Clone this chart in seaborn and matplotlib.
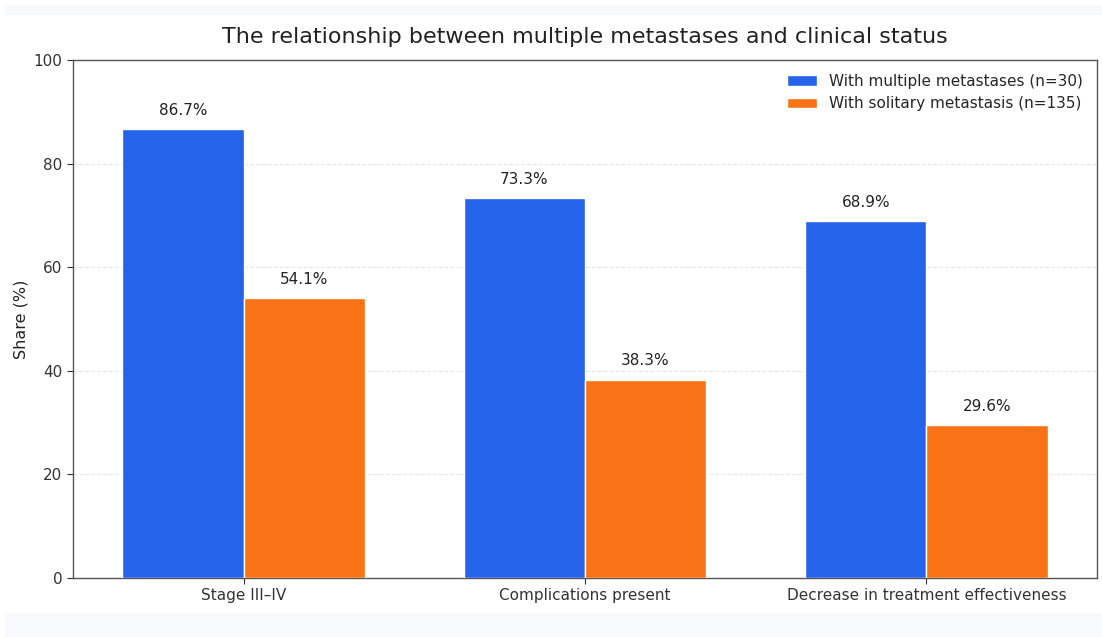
import matplotlib
matplotlib.use("Agg")
import matplotlib.pyplot as plt
import seaborn as sns
import pandas as pd
from matplotlib.patches import Rectangle

categories = ["Stage III\u2013IV", "Complications present", "Decrease in treatment effectiveness"]
groups = ["With multiple metastases (n=30)", "With solitary metastasis (n=135)"]
multiple_vals = [86.7, 73.3, 68.9]
solitary_vals = [54.1, 38.3, 29.6]
colors = ["#2563eb", "#f97316"]

df = pd.DataFrame({
    "category": categories * 2,
    "group": [groups[0]] * 3 + [groups[1]] * 3,
    "value": multiple_vals + solitary_vals,
})

sns.set_style("white")
plt.rcParams["font.family"] = ["DejaVu Sans"]

fig = plt.figure(figsize=(11.02, 6.37), dpi=100, facecolor="white")
# page background bands around the chart card
W, H = 1102, 637
fig.patches.append(Rectangle((5 / W, 0), 1 - 5 / W, 1 - 5 / H, transform=fig.transFigure,
                             facecolor="#f7f9fd", edgecolor="none", zorder=-10))
fig.patches.append(Rectangle((0, 24 / H), 1, (613 - 15) / H, transform=fig.transFigure,
                             facecolor="white", edgecolor="none", zorder=-9))

ax = fig.add_axes([73 / W, 1 - 578 / H, (1097 - 73) / W, (578 - 60) / H])
sns.barplot(data=df, x="category", y="value", hue="group", palette=colors,
            saturation=1, width=0.71, edgecolor="white", linewidth=1, ax=ax, zorder=3)

for cont in ax.containers:
    for bar in cont:
        h = bar.get_height()
        ax.annotate(f"{h:.1f}%", (bar.get_x() + bar.get_width() / 2, h),
                    xytext=(0, 8), textcoords="offset points",
                    ha="center", va="bottom", fontsize=11, color="#222222")

ax.set_ylim(0, 100)
ax.set_xlim(-0.5, 2.5)
ax.set_yticks([0, 20, 40, 60, 80, 100])
ax.grid(axis="y", linestyle="--", color="#e5e7eb", linewidth=0.8, zorder=0)
ax.set_axisbelow(True)
ax.set_xlabel("")
ax.set_ylabel("Share (%)", fontsize=11.5, color="#222222")
ax.tick_params(axis="both", labelsize=11, colors="#333333", length=4, left=True, bottom=True)
for s in ax.spines.values():
    s.set_color("#555555")
    s.set_linewidth(1)
ax.set_title("The relationship between multiple metastases and clinical status",
             fontsize=16, color="#222222", pad=12)
leg = ax.legend(loc="upper right", frameon=False, fontsize=11)

fig.savefig("out.png", dpi=100, facecolor=fig.get_facecolor())
